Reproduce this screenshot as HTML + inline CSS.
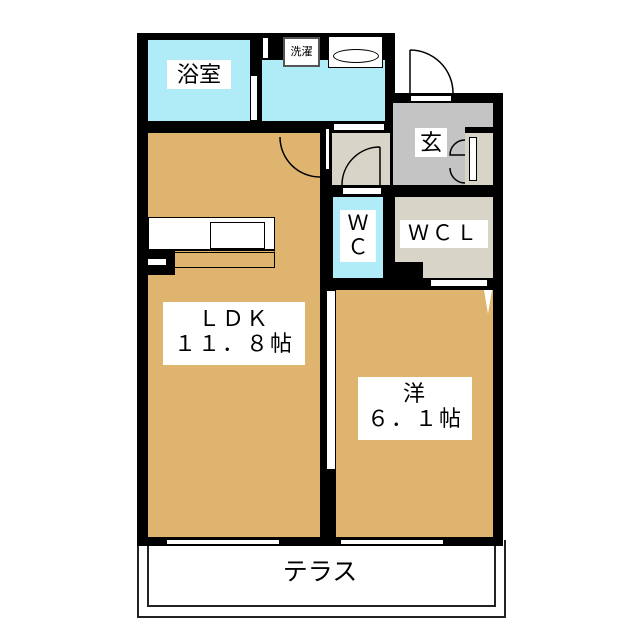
<!DOCTYPE html>
<html><head><meta charset="utf-8"><style>
body{margin:0;width:640px;height:640px;background:#fff;position:relative;overflow:hidden;font-family:"Liberation Sans","Noto Sans CJK JP",sans-serif}
div{position:absolute;box-sizing:border-box}
.k{background:#000}
.w{background:#fff}
.lb{background:#fff;color:#000;text-align:center;line-height:1.15}
svg{position:absolute;left:0;top:0}
</style></head><body>
<!-- terrace -->
<div style="left:137px;top:540px;width:369px;height:78px;border:2px solid #222;border-top:none"></div>
<div style="left:147px;top:540px;width:349px;height:67px;border:2px solid #222;border-top:none"></div>
<div class="lb" style="left:275px;top:558px;width:90px;font-size:25px">テラス</div>

<!-- outer walls -->
<div class="k" style="left:137px;top:33px;width:258px;height:513px"></div>
<div class="k" style="left:322px;top:93px;width:181px;height:453px"></div>

<!-- bath -->
<div style="left:148px;top:40px;width:102px;height:81px;background:#b0ecf8"></div>
<div class="lb" style="left:167px;top:60px;width:64px;font-size:22px;padding:2px 0">浴室</div>
<div class="w" style="left:250px;top:75px;width:8px;height:46px;border:1px solid #000"></div>
<!-- washroom -->
<div style="left:262px;top:60px;width:123px;height:61px;background:#b0ecf8"></div>
<div class="w" style="left:283px;top:37px;width:37px;height:30px;border:2px solid #555;font-size:11px;text-align:center;line-height:26px">洗濯</div>
<div class="w" style="left:328px;top:36px;width:55px;height:32px;border:1px solid #000"></div>
<div style="left:333px;top:49px;width:46px;height:14px;border:1.5px solid #000;border-radius:50%"></div>
<div class="w" style="left:263px;top:38px;width:5px;height:20px"></div>

<!-- LDK -->
<div style="left:148px;top:133px;width:172px;height:404px;background:#dfb46e"></div>
<div class="w" style="left:325px;top:128px;width:5px;height:42px;border:1px solid #000"></div>
<div class="w" style="left:148px;top:217px;width:127px;height:33px;border:1px solid #000"></div>
<div style="left:210px;top:222px;width:55px;height:27px;border:1px solid #000;background:#fff"></div>
<div style="left:148px;top:250px;width:127px;height:18px;border:1px solid #000;border-top:3px double #000"></div>
<div class="k" style="left:140px;top:250px;width:35px;height:25px"></div>
<div class="w" style="left:148px;top:259px;width:18px;height:6px"></div>
<div class="lb" style="left:163px;top:302px;width:142px;height:63px;font-size:22px;padding-top:4px;letter-spacing:2px">ＬＤＫ<br>１１．８帖</div>

<!-- hall -->
<div style="left:332px;top:133px;width:58px;height:52px;background:#d8d4c8"></div>
<div class="w" style="left:333px;top:123px;width:52px;height:8px;border:1px solid #000"></div>
<div class="w" style="left:342px;top:187px;width:40px;height:8px;border:1px solid #000"></div>
<!-- genkan -->
<div style="left:393px;top:103px;width:100px;height:82px;background:#c4c4c4"></div>
<div style="left:465px;top:130px;width:28px;height:55px;background:#d8d4c8"></div>
<div class="k" style="left:465px;top:127px;width:38px;height:6px"></div>
<div class="w" style="left:469px;top:137px;width:8px;height:44px;border:1px solid #000"></div>
<div class="lb" style="left:415px;top:128px;width:32px;font-size:22px;padding:2px 0">玄</div>
<div class="w" style="left:410px;top:95px;width:42px;height:7px;border:1px solid #000"></div>
<!-- WC -->
<div style="left:333px;top:197px;width:50px;height:81px;background:#b0ecf8"></div>
<div class="lb" style="left:340px;top:210px;width:36px;font-size:21px;padding:2px 0">Ｗ<br>Ｃ</div>
<!-- WCL -->
<div style="left:395px;top:197px;width:98px;height:81px;background:#d8d4c8"></div>
<div class="k" style="left:393px;top:262px;width:30px;height:20px"></div>
<div class="lb" style="left:400px;top:220px;width:88px;font-size:21px;padding:2px 0;letter-spacing:3px">ＷＣＬ</div>
<div class="w" style="left:430px;top:279px;width:58px;height:8px;border:1px solid #000"></div>

<!-- Yo -->
<div style="left:336px;top:290px;width:157px;height:247px;background:#dfb46e"></div>
<div class="w" style="left:326px;top:290px;width:10px;height:180px;border:1.5px solid #000"></div>
<div class="lb" style="left:358px;top:377px;width:114px;height:63px;font-size:22px;padding-top:4px;letter-spacing:2px">洋<br>６．１帖</div>
<div style="left:484px;top:290px;width:0;height:0;border-left:4px solid transparent;border-right:4px solid transparent;border-top:24px solid #fff"></div>

<!-- windows bottom -->
<div class="w" style="left:166px;top:539px;width:114px;height:6px;border:1px solid #000"></div>
<div class="w" style="left:340px;top:539px;width:104px;height:6px;border:1px solid #000"></div>

<svg width="640" height="640" fill="none" stroke="#000" stroke-width="1.5">
<path d="M280 137 A40 40 0 0 0 320 177"/>
<path d="M410 50 L410 93 M410 50 A43 43 0 0 1 453 93"/>
<path d="M380 147 L380 185 M380 147 A38 38 0 0 0 342 185"/>
<path d="M465 140 A15 15 0 0 0 450 155 L465 155 M465 183 A15 15 0 0 1 450 168"/>
</svg>
</body></html>
